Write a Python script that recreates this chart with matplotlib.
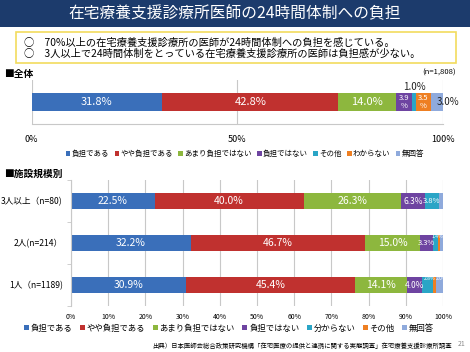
import matplotlib.pyplot as plt
from matplotlib.patches import Patch, Rectangle

plt.rcParams['font.family'] = ['Noto Sans CJK JP', 'DejaVu Sans']

# 全体
top_labels = ['負担である', 'やや負担である', 'あまり負担ではない', '負担ではない', 'その他', 'わからない', '無回答']
top_values = [31.8, 42.8, 14.0, 3.9, 1.0, 3.5, 3.0]

# 施設規模別
groups = ['3人以上（n=80)', '2人(n=214）', '1人（n=1189)']
bot_labels = ['負担である', 'やや負担である', 'あまり負担ではない', '負担ではない', '分からない', 'その他', '無回答']
bot_values = [
    [22.5, 40.0, 26.3, 6.3, 3.8, 0.0, 1.1],
    [32.2, 46.7, 15.0, 3.3, 1.4, 0.5, 0.9],
    [30.9, 45.4, 14.1, 4.0, 2.8, 0.8, 2.0],
]

colors = ['#3A6FBA', '#C0312F', '#8DB73E', '#6E44A1', '#2AA5C6', '#EE7F22', '#8FAADC']

W, H = 470, 352
fig = plt.figure(figsize=(4.7, 3.52), dpi=100)


def fx(px):
    return px / W


def fy(py):
    return 1 - py / H


# title banner
fig.patches.append(Rectangle((0, fy(27)), 1, 27 / H, transform=fig.transFigure,
                             facecolor='#1C3B6C', edgecolor='none', zorder=0))
fig.text(0.5, fy(14), '在宅療養支援診療所医師の24時間体制への負担', color='white',
         fontsize=11.3, ha='center', va='center')

# summary box
fig.patches.append(Rectangle((fx(16), fy(63)), fx(440), 31 / H, transform=fig.transFigure,
                             facecolor='white', edgecolor='#F2DC5D', linewidth=1.2))
fig.text(fx(24), fy(42.5), '○　70%以上の在宅療養支援診療所の医師が24時間体制への負担を感じている。',
         fontsize=7.4, va='center')
fig.text(fx(24), fy(54), '○　3人以上で24時間体制をとっている在宅療養支援診療所の医師は負担感が少ない。',
         fontsize=7.4, va='center')

fig.text(fx(4), fy(74), '■全体', fontsize=7, fontweight='bold', va='center')
fig.text(fx(456), fy(73), '(n=1,808)', fontsize=5.5, ha='right', va='center')

# top chart
ax1 = fig.add_axes([fx(31.5), fy(124), fx(411.5), 44 / H])
left = 0
for i, v in enumerate(top_values):
    ax1.barh(0, v, left=left, height=0.43, color=colors[i], edgecolor='none')
    c = left + v / 2
    if v >= 10:
        ax1.text(c, 0, f'{v:.1f}%', color='white', fontsize=8, ha='center', va='center')
    elif top_labels[i] in ('負担ではない', 'わからない'):
        ax1.text(c, 0, f'{v:.1f}\n%', color='white', fontsize=5.5, ha='center', va='center',
                 linespacing=1.1)
    left += v
ax1.text(93.0, 0.34, '1.0%', fontsize=7, ha='center', va='center', color='#222222')
ax1.text(101.2, 0, '3.0%', fontsize=7, ha='center', va='center', color='#222222')
ax1.set_xlim(0, 100)
ax1.set_ylim(-0.5, 0.5)
ax1.set_xticks([0, 50, 100])
ax1.set_xticklabels(['0%', '50%', '100%'], fontsize=6.5)
ax1.tick_params(axis='x', length=0, pad=8)
ax1.set_yticks([])
ax1.grid(axis='x', color='#C8C8C8', linewidth=0.8)
ax1.set_axisbelow(True)
for s in ['top', 'right', 'left']:
    ax1.spines[s].set_visible(False)
ax1.spines['bottom'].set_color('#C8C8C8')

h1 = [Patch(facecolor=c) for c in colors]
fig.legend(h1, top_labels, loc='center', bbox_to_anchor=(fx(245), fy(154)), ncol=7,
           frameon=False, fontsize=5.4, handlelength=0.6, handleheight=0.6,
           handletextpad=0.2, columnspacing=0.7)

fig.text(fx(4), fy(174), '■施設規模別', fontsize=7, fontweight='bold', va='center')

# bottom chart
ax2 = fig.add_axes([fx(71), fy(306), fx(372), 126 / H])
ys = [2, 1, 0]
for g in range(3):
    left = 0
    for i, v in enumerate(bot_values[g]):
        ax2.barh(ys[g], v, left=left, height=0.4, color=colors[i], edgecolor='none')
        c = left + v / 2
        if v >= 10:
            ax2.text(c, ys[g], f'{v:.1f}%', color='white', fontsize=7.5, ha='center', va='center')
        elif v >= 3:
            ax2.text(c, ys[g], f'{v:.1f}%', color='white', fontsize=5.5 if v < 4 else 6,
                     ha='center', va='center')
        elif v >= 1.4:
            ax2.text(c + 0.5, ys[g] + 0.15, f'{v:.1f}%', color='white', fontsize=3.6,
                     ha='center', va='center')
        left += v
ax2.set_xlim(0, 100)
ax2.set_ylim(-0.5, 2.5)
ax2.set_xticks(range(0, 101, 10))
ax2.set_xticklabels([f'{t}%' for t in range(0, 101, 10)], fontsize=5)
ax2.tick_params(axis='x', length=0, pad=5)
ax2.set_yticks(ys)
ax2.set_yticklabels(groups, fontsize=6.2)
ax2.set_yticks([-0.5, 0.5, 1.5, 2.5], minor=True)
ax2.tick_params(axis='y', which='major', length=0, pad=6)
ax2.tick_params(axis='y', which='minor', length=3, color='#C8C8C8')
ax2.grid(axis='x', color='#C8C8C8', linewidth=0.8)
ax2.set_axisbelow(True)
for s in ['top', 'right', 'bottom']:
    ax2.spines[s].set_visible(False)
ax2.spines['left'].set_color('#C8C8C8')

h2 = [Patch(facecolor=c) for c in colors]
fig.legend(h2, bot_labels, loc='center', bbox_to_anchor=(fx(229), fy(328)), ncol=7,
           frameon=False, fontsize=6.0, handlelength=0.6, handleheight=0.6,
           handletextpad=0.2, columnspacing=0.9)

fig.text(fx(452), fy(346), '出典）日本医師会総合政策研究機構「在宅医療の提供と連携に関する実態調査」在宅療養支援診療所調査',
         fontsize=4.6, ha='right', va='center')
fig.text(fx(462), fy(344), '21', fontsize=5, ha='center', va='center', color='#888888')

fig.savefig('out.png', dpi=100)
